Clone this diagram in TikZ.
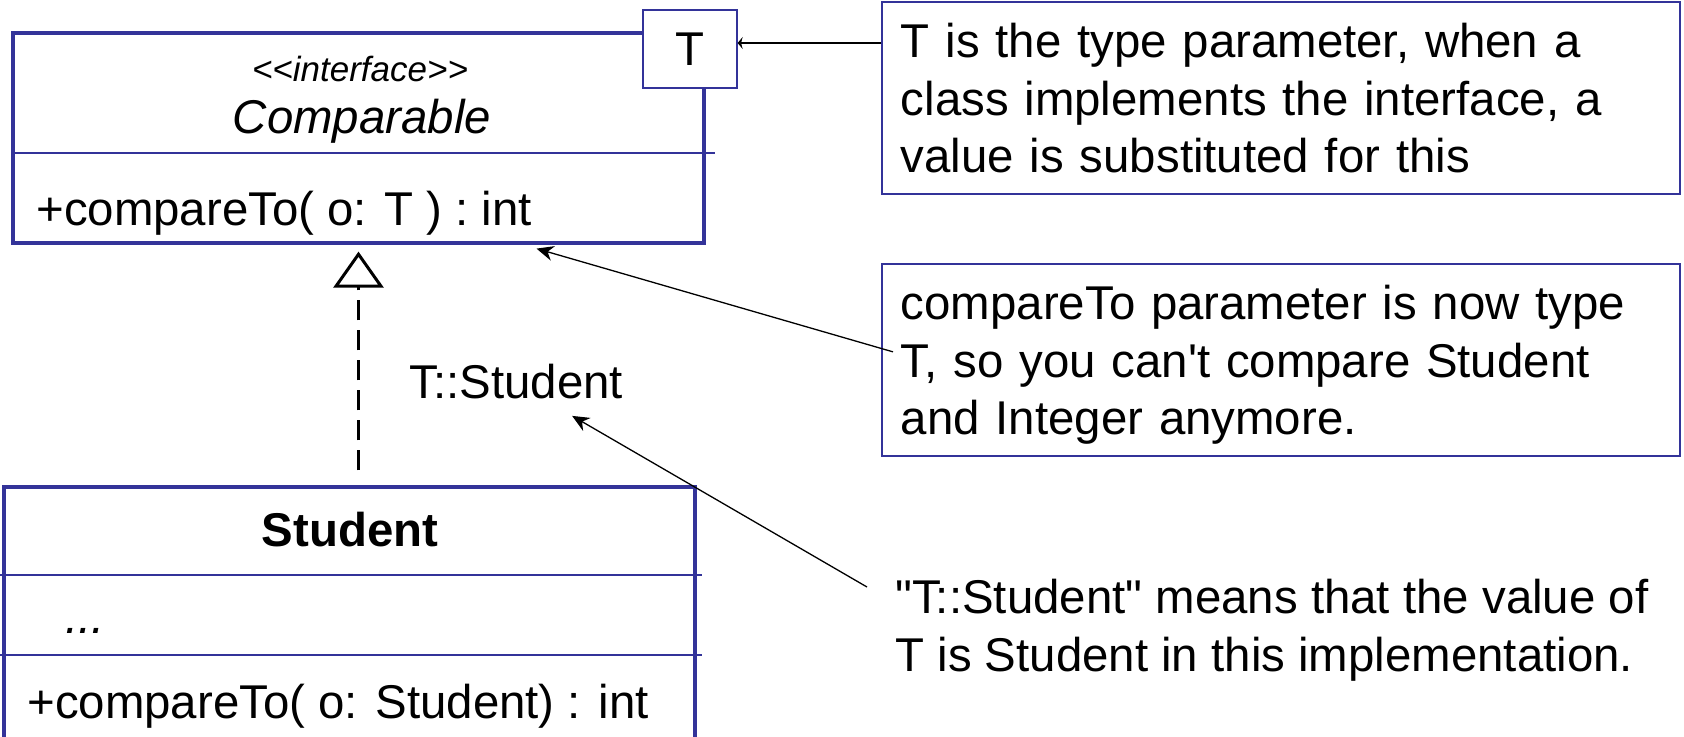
\documentclass[tikz,border=0pt]{standalone}
\usepackage{fontspec}
\newfontfamily\umlfont{Liberation Sans}
\usetikzlibrary{arrows.meta,positioning}
\definecolor{umlblue}{RGB}{51,51,153}

\begin{document}
\begin{tikzpicture}[x=1pt, y=-1pt,
    every node/.style={font=\umlfont\fontsize{23.7}{28.75}\selectfont, inner sep=0pt},
    classbox/.style={rectangle, draw=umlblue, line width=1.6pt, minimum width=345.5pt},
    divider/.style={draw=umlblue, line width=1.1pt},
    parambox/.style={rectangle, draw=umlblue, line width=0.85pt, fill=white, minimum width=47pt, minimum height=39pt},
    notebox/.style={rectangle, draw=umlblue, line width=0.85pt, anchor=north west, minimum width=399pt, minimum height=96pt, text width=380pt, align=left, text depth=57.5pt},
    notetext/.style={anchor=north west, align=left},
    realize/.style={-{Triangle[open, length=18pt, width=25pt, line width=1.5pt]}, line width=1.5pt, dash pattern=on 10pt off 5pt},
    pointer/.style={-{Stealth[length=8.5pt, width=7.5pt]}, line width=0.65pt}
]
    \useasboundingbox (0,0) rectangle (842,368);

    % Interface
    \node[classbox, minimum height=105pt] (comparable) at (179.25,69) {};
    \draw[divider] ([yshift=-7.5pt]comparable.west) -- ([xshift=4.5pt,yshift=-7.5pt]comparable.east);
    \node[parambox] (tpar) at (344.9,24.5) {T};
    \node[font=\umlfont\itshape\fontsize{17.5}{20}\selectfont, anchor=base] (stereo) at (180,40.8) {<<interface>>};
    \node[font=\umlfont\itshape\fontsize{23.7}{28.75}\selectfont, anchor=base] (cname) at (181,66.5) {Comparable};
    \node[anchor=base west] (cop) at (18,112.5) {+compareTo( o: T ) : int};

    % Class
    \node[classbox, minimum height=136.5pt] (student) at (174.75,311.75) {};
    \draw[divider] ([xshift=-2pt,yshift=24.25pt]student.west) -- ([xshift=2.5pt,yshift=24.25pt]student.east);
    \draw[divider] ([xshift=-2pt,yshift=-15.75pt]student.west) -- ([xshift=2.5pt,yshift=-15.75pt]student.east);
    \node[font=\umlfont\bfseries\fontsize{23.7}{28.75}\selectfont, anchor=base] (sname) at (175,273) {Student};
    \node[font=\umlfont\itshape\fontsize{23.7}{28.75}\selectfont, anchor=base west] (sattr) at (32.5,316.5) {...};
    \node[anchor=base west] (sop) at (13.5,359) {+compareTo( o: Student) : int};

    % Binding
    \node[anchor=base west] (tstudent) at (204.5,199) {T::Student};

    % Notes
    \node[notebox] (note1) at (440.5,0.5) {T is the type parameter, when a\\ class implements the interface, a\\ value is substituted for this};
    \node[notebox] (note2) at (440.5,131.5) {compareTo parameter is now type\\ T, so you can't compare Student\\ and Integer anymore.};
    \node[notetext] (note3) at (447.5,289.5) {"T::Student" means that the value of\\ T is Student in this implementation.};

    % Arrows
    \draw[realize, shorten <=7.5pt, shorten >=3.5pt] (student.north -| comparable.south) -- (comparable.south);
    \coordinate (tin) at ([yshift=3pt]tpar.east);
    \draw[pointer, -{Stealth[length=2.5pt, width=6pt]}] (note1.west |- tin) -- (tin);
    \draw[pointer] ([xshift=6pt,yshift=4pt]note2.west) -- ([xshift=89pt,yshift=-2pt]comparable.south);
    \draw[pointer] ([xshift=-14pt,yshift=-4pt]note3.north west) -- ([xshift=28pt,yshift=-8.5pt]tstudent.south);
\end{tikzpicture}
\end{document}
